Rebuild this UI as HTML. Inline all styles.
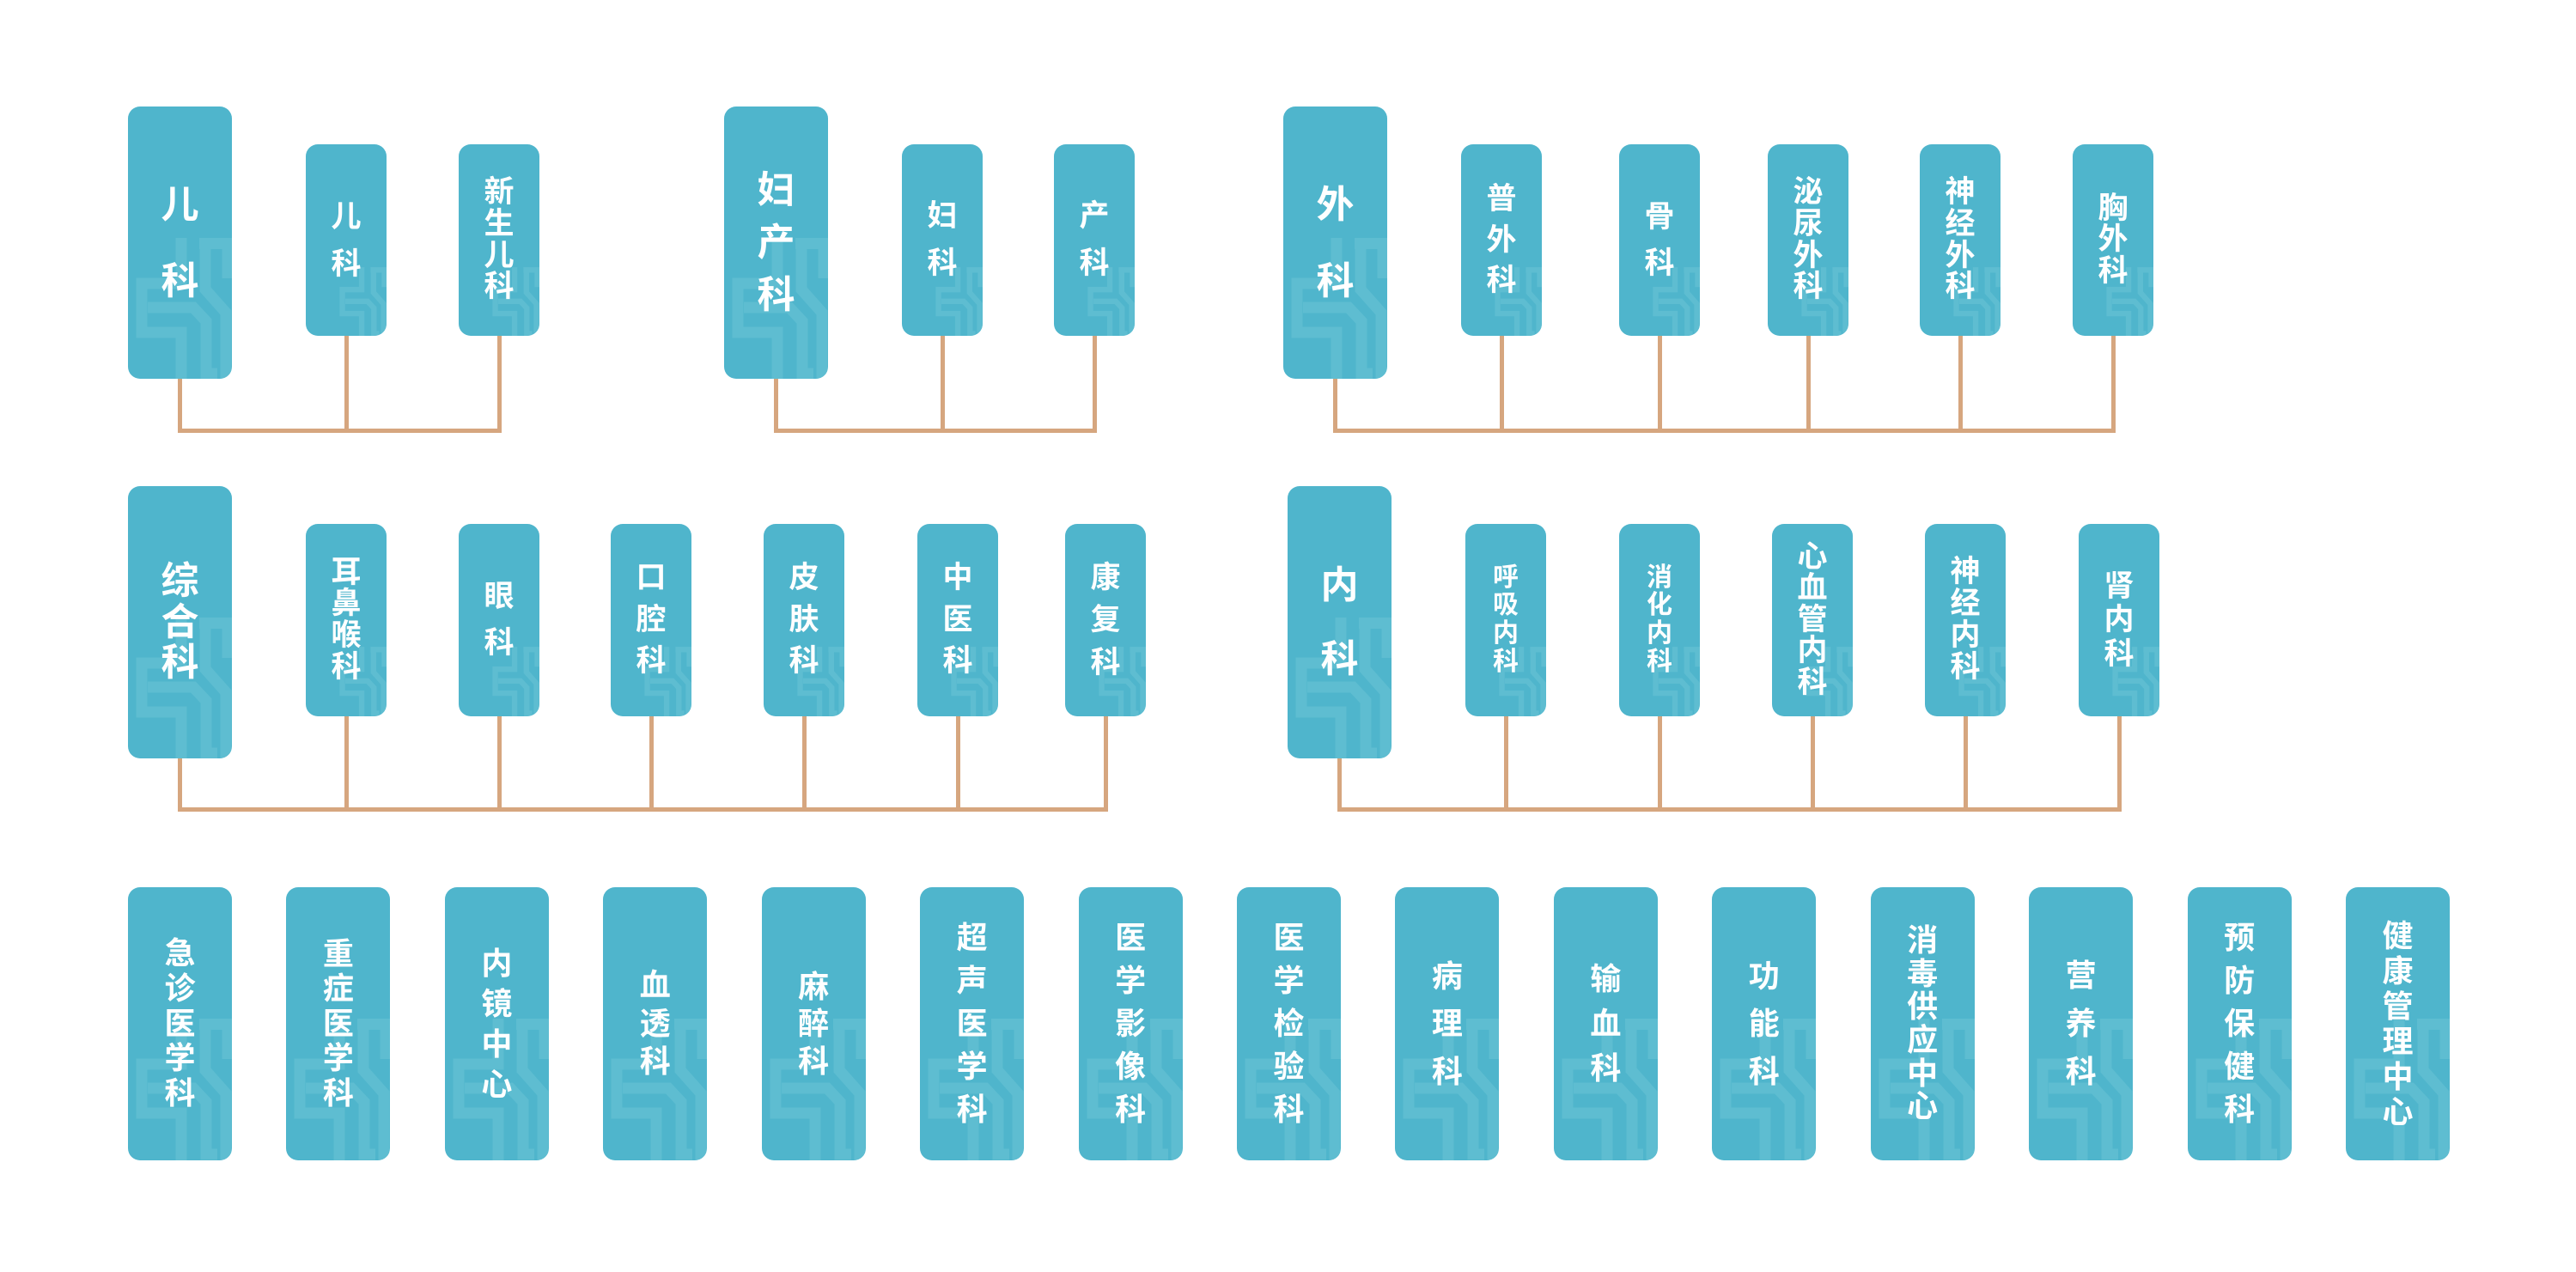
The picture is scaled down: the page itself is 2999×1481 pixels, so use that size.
<!DOCTYPE html>
<html>
<head>
<meta charset="utf-8">
<style>
html,body{margin:0;padding:0;background:#fff;}
body{width:2999px;height:1481px;position:relative;overflow:hidden;}
.b{position:absolute;background:#4fb5cc;border-radius:14px;overflow:hidden;color:#fff;display:flex;flex-direction:column;align-items:center;justify-content:center;font-family:"Liberation Sans","Noto Sans CJK SC",sans-serif;font-weight:700;}
.b svg{position:absolute;left:0;top:0;}
.b span{display:block;position:relative;}
.B{width:121px;height:317px;font-size:44px;}
.S{width:94px;height:223px;font-size:35px;}
.S2{width:94px;height:224px;font-size:35px;}
.T{width:121px;height:318px;font-size:36px;}
.c{position:absolute;background:#d6a67f;}
</style>
</head>
<body>

<!-- ============ ROW 1 ============ -->
<div class="b B" style="left:149px;top:124px;line-height:89px"><svg width="121" height="318" viewBox="0 0 121 318"><g fill="none" stroke="#5ebdd1" stroke-width="13"><path d="M62 153V206H16V263H62V330"/><path d="M23 234H76L91 250V311H104"/><path d="M90 153V213L114 240V330"/><path d="M83 159.5H125"/><path d="M116 153V200"/></g></svg><span>儿</span><span>科</span></div>

<div class="b S" style="left:356px;top:168px;line-height:55px"><svg width="94" height="224" viewBox="0 0 94 224"><g transform="translate(34.7 68.2) scale(0.49)" fill="none" stroke="#5ebdd1" stroke-width="13"><path d="M62 153V206H16V263H62V330"/><path d="M23 234H76L91 250V311H104"/><path d="M90 153V213L114 240V330"/><path d="M83 159.5H125"/><path d="M116 153V200"/></g></svg><span>儿</span><span>科</span></div>

<div class="b S" style="left:534px;top:168px;line-height:36.7px"><svg width="94" height="224" viewBox="0 0 94 224"><g transform="translate(34.7 68.2) scale(0.49)" fill="none" stroke="#5ebdd1" stroke-width="13"><path d="M62 153V206H16V263H62V330"/><path d="M23 234H76L91 250V311H104"/><path d="M90 153V213L114 240V330"/><path d="M83 159.5H125"/><path d="M116 153V200"/></g></svg><span>新</span><span>生</span><span>儿</span><span>科</span></div>

<div class="b B" style="left:843px;top:124px;line-height:61px"><svg width="121" height="318" viewBox="0 0 121 318"><g fill="none" stroke="#5ebdd1" stroke-width="13"><path d="M62 153V206H16V263H62V330"/><path d="M23 234H76L91 250V311H104"/><path d="M90 153V213L114 240V330"/><path d="M83 159.5H125"/><path d="M116 153V200"/></g></svg><span>妇</span><span>产</span><span>科</span></div>

<div class="b S" style="left:1050px;top:168px;line-height:54.5px"><svg width="94" height="224" viewBox="0 0 94 224"><g transform="translate(34.7 68.2) scale(0.49)" fill="none" stroke="#5ebdd1" stroke-width="13"><path d="M62 153V206H16V263H62V330"/><path d="M23 234H76L91 250V311H104"/><path d="M90 153V213L114 240V330"/><path d="M83 159.5H125"/><path d="M116 153V200"/></g></svg><span>妇</span><span>科</span></div>

<div class="b S" style="left:1227px;top:168px;line-height:54.5px"><svg width="94" height="224" viewBox="0 0 94 224"><g transform="translate(34.7 68.2) scale(0.49)" fill="none" stroke="#5ebdd1" stroke-width="13"><path d="M62 153V206H16V263H62V330"/><path d="M23 234H76L91 250V311H104"/><path d="M90 153V213L114 240V330"/><path d="M83 159.5H125"/><path d="M116 153V200"/></g></svg><span>产</span><span>科</span></div>

<div class="b B" style="left:1494px;top:124px;line-height:89px"><svg width="121" height="318" viewBox="0 0 121 318"><g fill="none" stroke="#5ebdd1" stroke-width="13"><path d="M62 153V206H16V263H62V330"/><path d="M23 234H76L91 250V311H104"/><path d="M90 153V213L114 240V330"/><path d="M83 159.5H125"/><path d="M116 153V200"/></g></svg><span>外</span><span>科</span></div>

<div class="b S" style="left:1701px;top:168px;line-height:47.5px"><svg width="94" height="224" viewBox="0 0 94 224"><g transform="translate(34.7 68.2) scale(0.49)" fill="none" stroke="#5ebdd1" stroke-width="13"><path d="M62 153V206H16V263H62V330"/><path d="M23 234H76L91 250V311H104"/><path d="M90 153V213L114 240V330"/><path d="M83 159.5H125"/><path d="M116 153V200"/></g></svg><span>普</span><span>外</span><span>科</span></div>

<div class="b S" style="left:1885px;top:168px;line-height:53.5px"><svg width="94" height="224" viewBox="0 0 94 224"><g transform="translate(34.7 68.2) scale(0.49)" fill="none" stroke="#5ebdd1" stroke-width="13"><path d="M62 153V206H16V263H62V330"/><path d="M23 234H76L91 250V311H104"/><path d="M90 153V213L114 240V330"/><path d="M83 159.5H125"/><path d="M116 153V200"/></g></svg><span>骨</span><span>科</span></div>

<div class="b S" style="left:2058px;top:168px;line-height:36.7px"><svg width="94" height="224" viewBox="0 0 94 224"><g transform="translate(34.7 68.2) scale(0.49)" fill="none" stroke="#5ebdd1" stroke-width="13"><path d="M62 153V206H16V263H62V330"/><path d="M23 234H76L91 250V311H104"/><path d="M90 153V213L114 240V330"/><path d="M83 159.5H125"/><path d="M116 153V200"/></g></svg><span>泌</span><span>尿</span><span>外</span><span>科</span></div>

<div class="b S" style="left:2235px;top:168px;line-height:36.7px"><svg width="94" height="224" viewBox="0 0 94 224"><g transform="translate(34.7 68.2) scale(0.49)" fill="none" stroke="#5ebdd1" stroke-width="13"><path d="M62 153V206H16V263H62V330"/><path d="M23 234H76L91 250V311H104"/><path d="M90 153V213L114 240V330"/><path d="M83 159.5H125"/><path d="M116 153V200"/></g></svg><span>神</span><span>经</span><span>外</span><span>科</span></div>

<div class="b S" style="left:2413px;top:168px;line-height:36.3px"><svg width="94" height="224" viewBox="0 0 94 224"><g transform="translate(34.7 68.2) scale(0.49)" fill="none" stroke="#5ebdd1" stroke-width="13"><path d="M62 153V206H16V263H62V330"/><path d="M23 234H76L91 250V311H104"/><path d="M90 153V213L114 240V330"/><path d="M83 159.5H125"/><path d="M116 153V200"/></g></svg><span>胸</span><span>外</span><span>科</span></div>

<!-- row 1 connectors -->
<div class="c" style="left:207px;top:499px;width:377px;height:5px"></div>
<div class="c" style="left:207px;top:441px;width:5px;height:63px"></div>
<div class="c" style="left:400.5px;top:391px;width:5px;height:113px"></div>
<div class="c" style="left:578.5px;top:391px;width:5px;height:113px"></div>

<div class="c" style="left:901px;top:499px;width:375.5px;height:5px"></div>
<div class="c" style="left:901px;top:441px;width:5px;height:63px"></div>
<div class="c" style="left:1094.5px;top:391px;width:5px;height:113px"></div>
<div class="c" style="left:1271.5px;top:391px;width:5px;height:113px"></div>

<div class="c" style="left:1552px;top:499px;width:910.5px;height:5px"></div>
<div class="c" style="left:1552px;top:441px;width:5px;height:63px"></div>
<div class="c" style="left:1745.5px;top:391px;width:5px;height:113px"></div>
<div class="c" style="left:1929.5px;top:391px;width:5px;height:113px"></div>
<div class="c" style="left:2102.5px;top:391px;width:5px;height:113px"></div>
<div class="c" style="left:2279.5px;top:391px;width:5px;height:113px"></div>
<div class="c" style="left:2457.5px;top:391px;width:5px;height:113px"></div>

<!-- ============ ROW 2 ============ -->
<div class="b B" style="left:149px;top:566px;line-height:47.5px"><svg width="121" height="318" viewBox="0 0 121 318"><g fill="none" stroke="#5ebdd1" stroke-width="13"><path d="M62 153V206H16V263H62V330"/><path d="M23 234H76L91 250V311H104"/><path d="M90 153V213L114 240V330"/><path d="M83 159.5H125"/><path d="M116 153V200"/></g></svg><span>综</span><span>合</span><span>科</span></div>

<div class="b S2" style="left:356px;top:610px;line-height:36.7px"><svg width="94" height="224" viewBox="0 0 94 224"><g transform="translate(34.7 68.2) scale(0.49)" fill="none" stroke="#5ebdd1" stroke-width="13"><path d="M62 153V206H16V263H62V330"/><path d="M23 234H76L91 250V311H104"/><path d="M90 153V213L114 240V330"/><path d="M83 159.5H125"/><path d="M116 153V200"/></g></svg><span>耳</span><span>鼻</span><span>喉</span><span>科</span></div>

<div class="b S2" style="left:534px;top:610px;line-height:54px"><svg width="94" height="224" viewBox="0 0 94 224"><g transform="translate(34.7 68.2) scale(0.49)" fill="none" stroke="#5ebdd1" stroke-width="13"><path d="M62 153V206H16V263H62V330"/><path d="M23 234H76L91 250V311H104"/><path d="M90 153V213L114 240V330"/><path d="M83 159.5H125"/><path d="M116 153V200"/></g></svg><span>眼</span><span>科</span></div>

<div class="b S2" style="left:711px;top:610px;line-height:48.5px"><svg width="94" height="224" viewBox="0 0 94 224"><g transform="translate(34.7 68.2) scale(0.49)" fill="none" stroke="#5ebdd1" stroke-width="13"><path d="M62 153V206H16V263H62V330"/><path d="M23 234H76L91 250V311H104"/><path d="M90 153V213L114 240V330"/><path d="M83 159.5H125"/><path d="M116 153V200"/></g></svg><span>口</span><span>腔</span><span>科</span></div>

<div class="b S2" style="left:889px;top:610px;line-height:48.5px"><svg width="94" height="224" viewBox="0 0 94 224"><g transform="translate(34.7 68.2) scale(0.49)" fill="none" stroke="#5ebdd1" stroke-width="13"><path d="M62 153V206H16V263H62V330"/><path d="M23 234H76L91 250V311H104"/><path d="M90 153V213L114 240V330"/><path d="M83 159.5H125"/><path d="M116 153V200"/></g></svg><span>皮</span><span>肤</span><span>科</span></div>

<div class="b S2" style="left:1068px;top:610px;line-height:48.5px"><svg width="94" height="224" viewBox="0 0 94 224"><g transform="translate(34.7 68.2) scale(0.49)" fill="none" stroke="#5ebdd1" stroke-width="13"><path d="M62 153V206H16V263H62V330"/><path d="M23 234H76L91 250V311H104"/><path d="M90 153V213L114 240V330"/><path d="M83 159.5H125"/><path d="M116 153V200"/></g></svg><span>中</span><span>医</span><span>科</span></div>

<div class="b S2" style="left:1240px;top:610px;line-height:49.4px"><svg width="94" height="224" viewBox="0 0 94 224"><g transform="translate(34.7 68.2) scale(0.49)" fill="none" stroke="#5ebdd1" stroke-width="13"><path d="M62 153V206H16V263H62V330"/><path d="M23 234H76L91 250V311H104"/><path d="M90 153V213L114 240V330"/><path d="M83 159.5H125"/><path d="M116 153V200"/></g></svg><span>康</span><span>复</span><span>科</span></div>

<div class="b B" style="left:1499px;top:566px;line-height:86px"><svg width="121" height="318" viewBox="0 0 121 318"><g fill="none" stroke="#5ebdd1" stroke-width="13"><path d="M62 153V206H16V263H62V330"/><path d="M23 234H76L91 250V311H104"/><path d="M90 153V213L114 240V330"/><path d="M83 159.5H125"/><path d="M116 153V200"/></g></svg><span>内</span><span>科</span></div>

<div class="b S2" style="left:1706px;top:610px;line-height:32.6px;font-size:30px"><svg width="94" height="224" viewBox="0 0 94 224"><g transform="translate(34.7 68.2) scale(0.49)" fill="none" stroke="#5ebdd1" stroke-width="13"><path d="M62 153V206H16V263H62V330"/><path d="M23 234H76L91 250V311H104"/><path d="M90 153V213L114 240V330"/><path d="M83 159.5H125"/><path d="M116 153V200"/></g></svg><span>呼</span><span>吸</span><span>内</span><span>科</span></div>

<div class="b S2" style="left:1885px;top:610px;line-height:32.6px;font-size:30px"><svg width="94" height="224" viewBox="0 0 94 224"><g transform="translate(34.7 68.2) scale(0.49)" fill="none" stroke="#5ebdd1" stroke-width="13"><path d="M62 153V206H16V263H62V330"/><path d="M23 234H76L91 250V311H104"/><path d="M90 153V213L114 240V330"/><path d="M83 159.5H125"/><path d="M116 153V200"/></g></svg><span>消</span><span>化</span><span>内</span><span>科</span></div>

<div class="b S2" style="left:2063px;top:610px;line-height:36.6px"><svg width="94" height="224" viewBox="0 0 94 224"><g transform="translate(34.7 68.2) scale(0.49)" fill="none" stroke="#5ebdd1" stroke-width="13"><path d="M62 153V206H16V263H62V330"/><path d="M23 234H76L91 250V311H104"/><path d="M90 153V213L114 240V330"/><path d="M83 159.5H125"/><path d="M116 153V200"/></g></svg><span>心</span><span>血</span><span>管</span><span>内</span><span>科</span></div>

<div class="b S2" style="left:2241px;top:610px;line-height:36.8px"><svg width="94" height="224" viewBox="0 0 94 224"><g transform="translate(34.7 68.2) scale(0.49)" fill="none" stroke="#5ebdd1" stroke-width="13"><path d="M62 153V206H16V263H62V330"/><path d="M23 234H76L91 250V311H104"/><path d="M90 153V213L114 240V330"/><path d="M83 159.5H125"/><path d="M116 153V200"/></g></svg><span>神</span><span>经</span><span>内</span><span>科</span></div>

<div class="b S2" style="left:2420px;top:610px;line-height:39.3px"><svg width="94" height="224" viewBox="0 0 94 224"><g transform="translate(34.7 68.2) scale(0.49)" fill="none" stroke="#5ebdd1" stroke-width="13"><path d="M62 153V206H16V263H62V330"/><path d="M23 234H76L91 250V311H104"/><path d="M90 153V213L114 240V330"/><path d="M83 159.5H125"/><path d="M116 153V200"/></g></svg><span>肾</span><span>内</span><span>科</span></div>

<!-- row 2 connectors -->
<div class="c" style="left:207px;top:940px;width:1082.5px;height:5px"></div>
<div class="c" style="left:207px;top:883px;width:5px;height:62px"></div>
<div class="c" style="left:400.5px;top:834px;width:5px;height:111px"></div>
<div class="c" style="left:578.5px;top:834px;width:5px;height:111px"></div>
<div class="c" style="left:755.5px;top:834px;width:5px;height:111px"></div>
<div class="c" style="left:933.5px;top:834px;width:5px;height:111px"></div>
<div class="c" style="left:1112.5px;top:834px;width:5px;height:111px"></div>
<div class="c" style="left:1284.5px;top:834px;width:5px;height:111px"></div>

<div class="c" style="left:1557px;top:940px;width:912.5px;height:5px"></div>
<div class="c" style="left:1557px;top:883px;width:5px;height:62px"></div>
<div class="c" style="left:1750.5px;top:834px;width:5px;height:111px"></div>
<div class="c" style="left:1929.5px;top:834px;width:5px;height:111px"></div>
<div class="c" style="left:2107.5px;top:834px;width:5px;height:111px"></div>
<div class="c" style="left:2285.5px;top:834px;width:5px;height:111px"></div>
<div class="c" style="left:2464.5px;top:834px;width:5px;height:111px"></div>

<!-- ============ ROW 3 ============ -->
<div class="b T" style="left:149px;top:1033px;line-height:40.9px"><svg width="121" height="318" viewBox="0 0 121 318"><g fill="none" stroke="#5ebdd1" stroke-width="13"><path d="M62 153V206H16V263H62V330"/><path d="M23 234H76L91 250V311H104"/><path d="M90 153V213L114 240V330"/><path d="M83 159.5H125"/><path d="M116 153V200"/></g></svg><span>急</span><span>诊</span><span>医</span><span>学</span><span>科</span></div>

<div class="b T" style="left:333.4px;top:1033px;line-height:40.5px"><svg width="121" height="318" viewBox="0 0 121 318"><g fill="none" stroke="#5ebdd1" stroke-width="13"><path d="M62 153V206H16V263H62V330"/><path d="M23 234H76L91 250V311H104"/><path d="M90 153V213L114 240V330"/><path d="M83 159.5H125"/><path d="M116 153V200"/></g></svg><span>重</span><span>症</span><span>医</span><span>学</span><span>科</span></div>

<div class="b T" style="left:517.9px;top:1033px;line-height:47px"><svg width="121" height="318" viewBox="0 0 121 318"><g fill="none" stroke="#5ebdd1" stroke-width="13"><path d="M62 153V206H16V263H62V330"/><path d="M23 234H76L91 250V311H104"/><path d="M90 153V213L114 240V330"/><path d="M83 159.5H125"/><path d="M116 153V200"/></g></svg><span>内</span><span>镜</span><span>中</span><span>心</span></div>

<div class="b T" style="left:702.3px;top:1033px;line-height:44.6px"><svg width="121" height="318" viewBox="0 0 121 318"><g fill="none" stroke="#5ebdd1" stroke-width="13"><path d="M62 153V206H16V263H62V330"/><path d="M23 234H76L91 250V311H104"/><path d="M90 153V213L114 240V330"/><path d="M83 159.5H125"/><path d="M116 153V200"/></g></svg><span>血</span><span>透</span><span>科</span></div>

<div class="b T" style="left:886.7px;top:1033px;line-height:43.5px"><svg width="121" height="318" viewBox="0 0 121 318"><g fill="none" stroke="#5ebdd1" stroke-width="13"><path d="M62 153V206H16V263H62V330"/><path d="M23 234H76L91 250V311H104"/><path d="M90 153V213L114 240V330"/><path d="M83 159.5H125"/><path d="M116 153V200"/></g></svg><span>麻</span><span>醉</span><span>科</span></div>

<div class="b T" style="left:1071.2px;top:1033px;line-height:50px"><svg width="121" height="318" viewBox="0 0 121 318"><g fill="none" stroke="#5ebdd1" stroke-width="13"><path d="M62 153V206H16V263H62V330"/><path d="M23 234H76L91 250V311H104"/><path d="M90 153V213L114 240V330"/><path d="M83 159.5H125"/><path d="M116 153V200"/></g></svg><span>超</span><span>声</span><span>医</span><span>学</span><span>科</span></div>

<div class="b T" style="left:1255.6px;top:1033px;line-height:50px"><svg width="121" height="318" viewBox="0 0 121 318"><g fill="none" stroke="#5ebdd1" stroke-width="13"><path d="M62 153V206H16V263H62V330"/><path d="M23 234H76L91 250V311H104"/><path d="M90 153V213L114 240V330"/><path d="M83 159.5H125"/><path d="M116 153V200"/></g></svg><span>医</span><span>学</span><span>影</span><span>像</span><span>科</span></div>

<div class="b T" style="left:1440px;top:1033px;line-height:50px"><svg width="121" height="318" viewBox="0 0 121 318"><g fill="none" stroke="#5ebdd1" stroke-width="13"><path d="M62 153V206H16V263H62V330"/><path d="M23 234H76L91 250V311H104"/><path d="M90 153V213L114 240V330"/><path d="M83 159.5H125"/><path d="M116 153V200"/></g></svg><span>医</span><span>学</span><span>检</span><span>验</span><span>科</span></div>

<div class="b T" style="left:1624.4px;top:1033px;line-height:55.5px"><svg width="121" height="318" viewBox="0 0 121 318"><g fill="none" stroke="#5ebdd1" stroke-width="13"><path d="M62 153V206H16V263H62V330"/><path d="M23 234H76L91 250V311H104"/><path d="M90 153V213L114 240V330"/><path d="M83 159.5H125"/><path d="M116 153V200"/></g></svg><span>病</span><span>理</span><span>科</span></div>

<div class="b T" style="left:1808.9px;top:1033px;line-height:51.7px"><svg width="121" height="318" viewBox="0 0 121 318"><g fill="none" stroke="#5ebdd1" stroke-width="13"><path d="M62 153V206H16V263H62V330"/><path d="M23 234H76L91 250V311H104"/><path d="M90 153V213L114 240V330"/><path d="M83 159.5H125"/><path d="M116 153V200"/></g></svg><span>输</span><span>血</span><span>科</span></div>

<div class="b T" style="left:1993.3px;top:1033px;line-height:55.5px"><svg width="121" height="318" viewBox="0 0 121 318"><g fill="none" stroke="#5ebdd1" stroke-width="13"><path d="M62 153V206H16V263H62V330"/><path d="M23 234H76L91 250V311H104"/><path d="M90 153V213L114 240V330"/><path d="M83 159.5H125"/><path d="M116 153V200"/></g></svg><span>功</span><span>能</span><span>科</span></div>

<div class="b T" style="left:2177.7px;top:1033px;line-height:38.6px"><svg width="121" height="318" viewBox="0 0 121 318"><g fill="none" stroke="#5ebdd1" stroke-width="13"><path d="M62 153V206H16V263H62V330"/><path d="M23 234H76L91 250V311H104"/><path d="M90 153V213L114 240V330"/><path d="M83 159.5H125"/><path d="M116 153V200"/></g></svg><span>消</span><span>毒</span><span>供</span><span>应</span><span>中</span><span>心</span></div>

<div class="b T" style="left:2362.2px;top:1033px;line-height:55.7px"><svg width="121" height="318" viewBox="0 0 121 318"><g fill="none" stroke="#5ebdd1" stroke-width="13"><path d="M62 153V206H16V263H62V330"/><path d="M23 234H76L91 250V311H104"/><path d="M90 153V213L114 240V330"/><path d="M83 159.5H125"/><path d="M116 153V200"/></g></svg><span>营</span><span>养</span><span>科</span></div>

<div class="b T" style="left:2546.6px;top:1033px;line-height:50px"><svg width="121" height="318" viewBox="0 0 121 318"><g fill="none" stroke="#5ebdd1" stroke-width="13"><path d="M62 153V206H16V263H62V330"/><path d="M23 234H76L91 250V311H104"/><path d="M90 153V213L114 240V330"/><path d="M83 159.5H125"/><path d="M116 153V200"/></g></svg><span>预</span><span>防</span><span>保</span><span>健</span><span>科</span></div>

<div class="b T" style="left:2731px;top:1033px;line-height:41px"><svg width="121" height="318" viewBox="0 0 121 318"><g fill="none" stroke="#5ebdd1" stroke-width="13"><path d="M62 153V206H16V263H62V330"/><path d="M23 234H76L91 250V311H104"/><path d="M90 153V213L114 240V330"/><path d="M83 159.5H125"/><path d="M116 153V200"/></g></svg><span>健</span><span>康</span><span>管</span><span>理</span><span>中</span><span>心</span></div>

</body>
</html>
